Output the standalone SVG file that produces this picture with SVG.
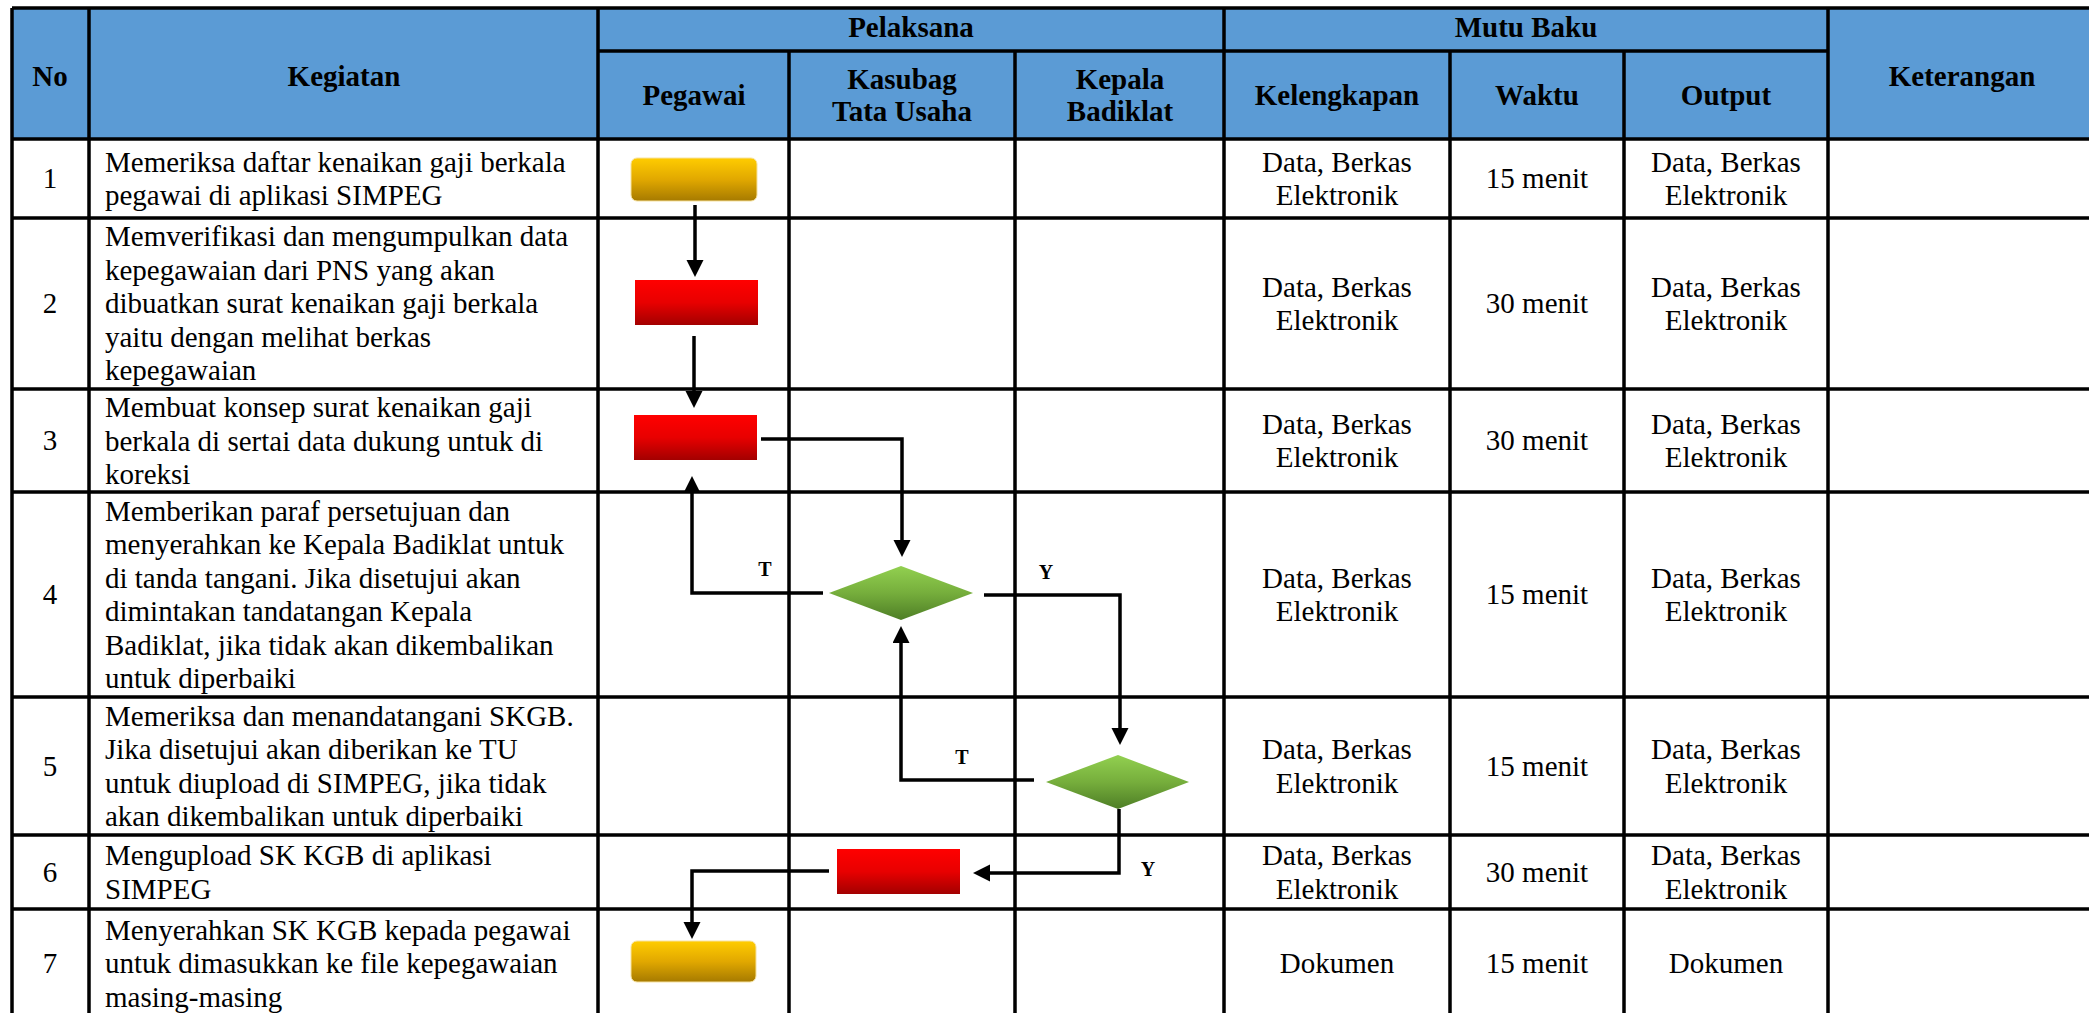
<svg xmlns="http://www.w3.org/2000/svg" width="2089" height="1013" viewBox="0 0 2089 1013">
<defs>
<style>
.h{font-family:"Liberation Serif","Times New Roman",serif;font-weight:bold;font-size:29px;fill:#000;text-anchor:middle}
.t{font-family:"Liberation Serif","Times New Roman",serif;font-size:29px;fill:#000}
.c{text-anchor:middle}
.lbl{font-family:"Liberation Serif","Times New Roman",serif;font-weight:bold;font-size:20px;fill:#000;text-anchor:middle}
.grid{stroke:#000;stroke-width:3.5;fill:none}
.conn{stroke:#000;stroke-width:3.5;fill:none}
</style>
<linearGradient id="gGold" x1="0" y1="0" x2="0" y2="1"><stop offset="0" stop-color="#FFCC00"/><stop offset="0.5" stop-color="#E1A800"/><stop offset="1" stop-color="#A67A00"/></linearGradient>
<linearGradient id="gRed" x1="0" y1="0" x2="0" y2="1"><stop offset="0" stop-color="#FF0000"/><stop offset="0.5" stop-color="#E80000"/><stop offset="1" stop-color="#A30000"/></linearGradient>
<linearGradient id="gGreen" x1="0" y1="0" x2="0" y2="1"><stop offset="0" stop-color="#92D050"/><stop offset="0.5" stop-color="#76AE3C"/><stop offset="1" stop-color="#4E7E26"/></linearGradient>
<marker id="arr" markerUnits="userSpaceOnUse" markerWidth="18" markerHeight="18" refX="6" refY="8.5" orient="auto"><path d="M0,0 L17,8.5 L0,17 z" fill="#000"/></marker>
</defs>
<rect x="0" y="0" width="2089" height="1013" fill="#fff"/>
<g id="table">
<rect x="12" y="8" width="2084" height="131" fill="#5B9BD5"/>
<path class="grid" d="M12,8 H2096 M598,51 H1828 M12,139 H2096 M12,218 H2096 M12,389 H2096 M12,492 H2096 M12,697 H2096 M12,835 H2096 M12,909 H2096 M12,1018 H2096"/>
<path class="grid" d="M12,8 V1018 M89,8 V1018 M598,8 V1018 M789,51 V1018 M1015,51 V1018 M1224,8 V1018 M1450,51 V1018 M1624,51 V1018 M1828,8 V1018 M2096,8 V1018"/>
<text class="h" x="50" y="86">No</text>
<text class="h" x="344" y="86">Kegiatan</text>
<text class="h" x="911" y="37">Pelaksana</text>
<text class="h" x="1526" y="37">Mutu Baku</text>
<text class="h" x="1962" y="86">Keterangan</text>
<text class="h" x="694" y="105">Pegawai</text>
<text class="h" x="902" y="89">Kasubag</text>
<text class="h" x="902" y="121">Tata Usaha</text>
<text class="h" x="1120" y="89">Kepala</text>
<text class="h" x="1120" y="121">Badiklat</text>
<text class="h" x="1337" y="105">Kelengkapan</text>
<text class="h" x="1537" y="105">Waktu</text>
<text class="h" x="1726" y="105">Output</text>
</g>
<g id="rows">
<g id="row1">
<text class="t c" x="50" y="188">1</text>
<text class="t" x="105"><tspan x="105" y="171.5">Memeriksa daftar kenaikan gaji berkala</tspan><tspan x="105" y="205">pegawai di aplikasi SIMPEG</tspan></text>
<text class="t c"><tspan x="1337" y="171.5">Data, Berkas</tspan><tspan x="1337" y="205">Elektronik</tspan></text>
<text class="t c" x="1537" y="188">15 menit</text>
<text class="t c"><tspan x="1726" y="171.5">Data, Berkas</tspan><tspan x="1726" y="205">Elektronik</tspan></text>
</g>
<g id="row2">
<text class="t c" x="50" y="313">2</text>
<text class="t"><tspan x="105" y="246">Memverifikasi dan mengumpulkan data</tspan><tspan x="105" y="279.5">kepegawaian dari PNS yang akan</tspan><tspan x="105" y="313">dibuatkan surat kenaikan gaji berkala</tspan><tspan x="105" y="346.5">yaitu dengan melihat berkas</tspan><tspan x="105" y="380">kepegawaian</tspan></text>
<text class="t c"><tspan x="1337" y="296.5">Data, Berkas</tspan><tspan x="1337" y="330">Elektronik</tspan></text>
<text class="t c" x="1537" y="313">30 menit</text>
<text class="t c"><tspan x="1726" y="296.5">Data, Berkas</tspan><tspan x="1726" y="330">Elektronik</tspan></text>
</g>
<g id="row3">
<text class="t c" x="50" y="450">3</text>
<text class="t"><tspan x="105" y="417">Membuat konsep surat kenaikan gaji</tspan><tspan x="105" y="450.5">berkala di sertai data dukung untuk di</tspan><tspan x="105" y="484">koreksi</tspan></text>
<text class="t c"><tspan x="1337" y="433.5">Data, Berkas</tspan><tspan x="1337" y="467">Elektronik</tspan></text>
<text class="t c" x="1537" y="450">30 menit</text>
<text class="t c"><tspan x="1726" y="433.5">Data, Berkas</tspan><tspan x="1726" y="467">Elektronik</tspan></text>
</g>
<g id="row4">
<text class="t c" x="50" y="604">4</text>
<text class="t"><tspan x="105" y="520.5">Memberikan paraf persetujuan dan</tspan><tspan x="105" y="554">menyerahkan ke Kepala Badiklat untuk</tspan><tspan x="105" y="587.5">di tanda tangani. Jika disetujui akan</tspan><tspan x="105" y="621">dimintakan tandatangan Kepala</tspan><tspan x="105" y="654.5">Badiklat, jika tidak akan dikembalikan</tspan><tspan x="105" y="688">untuk diperbaiki</tspan></text>
<text class="t c"><tspan x="1337" y="587.5">Data, Berkas</tspan><tspan x="1337" y="621">Elektronik</tspan></text>
<text class="t c" x="1537" y="604">15 menit</text>
<text class="t c"><tspan x="1726" y="587.5">Data, Berkas</tspan><tspan x="1726" y="621">Elektronik</tspan></text>
</g>
<g id="row5">
<text class="t c" x="50" y="776">5</text>
<text class="t"><tspan x="105" y="725.5">Memeriksa dan menandatangani SKGB.</tspan><tspan x="105" y="759">Jika disetujui akan diberikan ke TU</tspan><tspan x="105" y="792.5">untuk diupload di SIMPEG, jika tidak</tspan><tspan x="105" y="826">akan dikembalikan untuk diperbaiki</tspan></text>
<text class="t c"><tspan x="1337" y="759">Data, Berkas</tspan><tspan x="1337" y="792.5">Elektronik</tspan></text>
<text class="t c" x="1537" y="776">15 menit</text>
<text class="t c"><tspan x="1726" y="759">Data, Berkas</tspan><tspan x="1726" y="792.5">Elektronik</tspan></text>
</g>
<g id="row6">
<text class="t c" x="50" y="882">6</text>
<text class="t"><tspan x="105" y="865">Mengupload SK KGB di aplikasi</tspan><tspan x="105" y="898.5">SIMPEG</tspan></text>
<text class="t c"><tspan x="1337" y="865">Data, Berkas</tspan><tspan x="1337" y="898.5">Elektronik</tspan></text>
<text class="t c" x="1537" y="882">30 menit</text>
<text class="t c"><tspan x="1726" y="865">Data, Berkas</tspan><tspan x="1726" y="898.5">Elektronik</tspan></text>
</g>
<g id="row7">
<text class="t c" x="50" y="973">7</text>
<text class="t"><tspan x="105" y="939.5">Menyerahkan SK KGB kepada pegawai</tspan><tspan x="105" y="973">untuk dimasukkan ke file kepegawaian</tspan><tspan x="105" y="1006.5">masing-masing</tspan></text>
<text class="t c" x="1337" y="973">Dokumen</text>
<text class="t c" x="1537" y="973">15 menit</text>
<text class="t c" x="1726" y="973">Dokumen</text>
</g>
</g>
<g id="connectors">
<path class="conn" marker-end="url(#arr)" d="M695,205 V266"/>
<path class="conn" marker-end="url(#arr)" d="M694,336 V397"/>
<path class="conn" marker-end="url(#arr)" d="M761,439 H902 V546"/>
<path class="conn" marker-end="url(#arr)" d="M823,593 H692 V487"/>
<path class="conn" marker-end="url(#arr)" d="M984,595 H1120 V734"/>
<path class="conn" marker-end="url(#arr)" d="M1034,780 H901 V637"/>
<path class="conn" marker-end="url(#arr)" d="M1119,809 V873 H984"/>
<path class="conn" marker-end="url(#arr)" d="M829,871 H692 V928"/>
<text class="lbl" x="765" y="576">T</text>
<text class="lbl" x="1046" y="579">Y</text>
<text class="lbl" x="962" y="764">T</text>
<text class="lbl" x="1148" y="876">Y</text>
</g>
<g id="n1"><rect x="631" y="158" width="126" height="43" rx="6" fill="url(#gGold)" stroke="#F6E2A0" stroke-width="1"/></g>
<g id="n2"><rect x="635" y="280" width="123" height="45" fill="url(#gRed)"/></g>
<g id="n3"><rect x="634" y="415" width="123" height="45" fill="url(#gRed)"/></g>
<g id="n4"><polygon points="829,593 901,566 973,593 901,620" fill="url(#gGreen)"/></g>
<g id="n5"><polygon points="1046,782 1118,755 1189,782 1118,809" fill="url(#gGreen)"/></g>
<g id="n6"><rect x="837" y="849" width="123" height="45" fill="url(#gRed)"/></g>
<g id="n7"><rect x="631" y="941" width="125" height="41" rx="6" fill="url(#gGold)" stroke="#F6E2A0" stroke-width="1"/></g>
</svg>
